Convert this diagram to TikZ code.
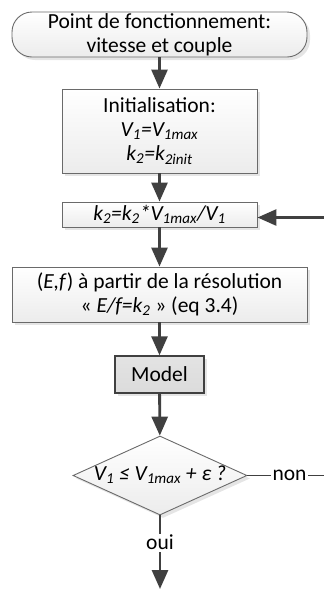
\documentclass[tikz,border=0pt]{standalone}
\usepackage{fontspec}
\setmainfont{Carlito}
\usetikzlibrary{shapes.geometric,arrows.meta,shadows}
\definecolor{edge}{HTML}{6A6A6A}
\definecolor{arr}{HTML}{404040}
\begin{document}
\begin{tikzpicture}[x=1pt,y=-1pt,
  font=\fontsize{21.5}{24}\selectfont,
  boxstyle/.style={draw=edge, line width=0.9pt, top color=white, bottom color=gray!15,
    inner sep=0pt, align=center,
    drop shadow={shadow xshift=3pt, shadow yshift=-3pt, fill=gray!40, opacity=0.5}},
  flow/.style={draw=arr, line width=2.8pt, -{Triangle[length=19pt,width=16pt]}},
  plain/.style={draw=arr, line width=1.2pt},
  lbl/.style={fill=white, inner sep=1.5pt}]
\useasboundingbox (0,0) rectangle (324,590);
\node[boxstyle, rounded corners=20pt, minimum width=295pt, minimum height=45pt] (start) at (159.5,34.5)
  {Point de fonctionnement:\\vitesse et couple};
\node[boxstyle, minimum width=195pt, minimum height=84pt] (init) at (159.5,131)
  {Initialisation:\\\textit{V\textsubscript{1}=V\textsubscript{1max}}\\\textit{k\textsubscript{2}=k\textsubscript{2init}}};
\node[boxstyle, minimum width=195pt, minimum height=25pt] (upd) at (159.5,214.5)
  {\textit{k\textsubscript{2}=k\textsubscript{2}*V\textsubscript{1max}/V\textsubscript{1}}};
\node[boxstyle, minimum width=295pt, minimum height=55pt] (ef) at (159.5,294.5)
  {(\textit{E,f}) à partir de la résolution\\« \textit{E/f=k\textsubscript{2}} » (eq 3.4)};
\node[boxstyle, draw=arr, line width=1.4pt, top color=gray!22, bottom color=gray!28, minimum width=89pt, minimum height=37pt] (model) at (159.5,374.5) {Model};
\node[boxstyle, diamond, minimum width=174pt, minimum height=79pt] (dec) at (160,475.5) {};
\node (dectext) at (160,475) {\textit{V\textsubscript{1} ≤ V\textsubscript{1max} + ε ?}};
\coordinate (nonend) at (324,475.5);
\coordinate (loopin) at (324,217.5);
\coordinate (ouiend) at (160,589);
\draw[flow] (start) -- (init);
\draw[flow] (init) -- (upd);
\draw[flow] (upd) -- (ef);
\draw[flow] (ef) -- (model);
\draw[flow] (model) -- (dec);
\draw[flow] (loopin) -- (upd.east |- loopin);
\draw[plain] (dec.east) -- node[lbl, pos=0.55] {non} (nonend);
\draw[flow] (dec.south) -- node[lbl, pos=0.37] {oui} (ouiend);
\end{tikzpicture}
\end{document}
